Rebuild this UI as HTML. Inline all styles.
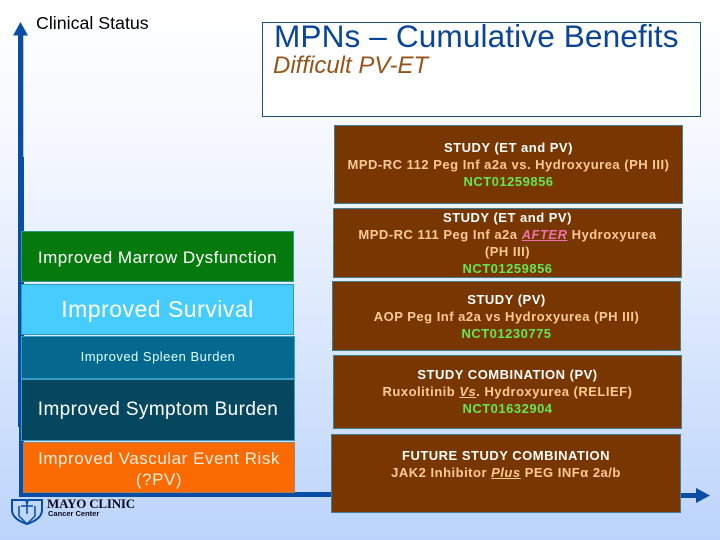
<!DOCTYPE html>
<html><head><meta charset="utf-8"><style>
html,body{margin:0;padding:0}
body{width:720px;height:540px;position:relative;overflow:hidden;background:linear-gradient(180deg,#ffffff 0%,#f3f7fe 30%,#bcd4fb 100%);font-family:"Liberation Sans",sans-serif}
.a{position:absolute;box-sizing:border-box}
.l{display:flex;align-items:center;justify-content:center;text-align:center;color:#fff;white-space:nowrap}
.r{background:#783600;border:1px solid #3f7f96;text-align:center;font-size:13px;line-height:17px;font-weight:bold;letter-spacing:.5px;color:#ffc899;white-space:nowrap}
.r b{color:#fff}.r i{font-weight:bold}
.w{color:#fff}.g{color:#66e64d}
</style></head><body>
<svg class="a" style="left:0;top:0" width="720" height="540">
<rect x="18" y="34" width="5.300" height="125" fill="#0a4da6"/>
<rect x="18" y="157" width="6" height="270" fill="#0a4da6"/>
<rect x="19" y="427" width="5" height="70" fill="#0a4da6"/>
<polygon points="20.500,22 13,35.500 28,35.500" fill="#0a4da6"/>
<rect x="19" y="492" width="315" height="5" fill="#0a4da6"/>
<rect x="680" y="493" width="18" height="5" fill="#0a4da6"/>
<polygon points="696,488 710,495.500 696,503" fill="#0a4da6"/>
<g fill="none" stroke="#0a4da6" stroke-width="2">
<path d="M12 500H26L27 503L28 500H42V510Q42 519 27 524Q12 519 12 510Z"/>
<path d="M19 506V516L27 524L35 516V506M21 506H33M27 503V514" stroke-width="1.500"/>
</g>
</svg>
<div class="a" style="left:36px;top:13px;font-size:17.800px;line-height:20px;color:#000;white-space:nowrap">Clinical Status</div>
<div class="a" style="left:262px;top:22px;width:439px;height:95px;background:#fff;border:1px solid #1f4e79"></div>
<div class="a" style="left:274px;top:19px;font-size:31.600px;line-height:34px;color:#0a4596;white-space:nowrap;letter-spacing:.1px">MPNs – Cumulative Benefits</div>
<div class="a" style="left:273px;top:53px;font-size:24px;line-height:26px;font-style:italic;color:#96541a;white-space:nowrap">Difficult PV-ET</div>

<div class="a l" style="left:21px;top:231px;width:273px;height:51px;background:#067a0c;border:1px solid #2f9b88;font-size:17px;letter-spacing:.5px;padding-top:3px">Improved Marrow Dysfunction</div>
<div class="a l" style="left:21px;top:284px;width:273px;height:51px;background:#47cdfd;border:1px solid #2a9cc4;font-size:23px;letter-spacing:.5px">Improved Survival</div>
<div class="a l" style="left:21px;top:336px;width:274px;height:43px;background:#05698f;border:1px solid #3b9cc0;font-size:13px;padding-bottom:2px;letter-spacing:.5px;color:#dff">Improved Spleen Burden</div>
<div class="a l" style="left:21px;top:379px;width:274px;height:62px;background:#04475f;border:1px solid #3b9cc0;font-size:19px;letter-spacing:.4px">Improved Symptom Burden</div>
<div class="a l" style="left:23px;top:442px;width:272px;height:51px;background:#fa6a02;border:1px solid #a3845f;font-size:17px;line-height:21px;letter-spacing:.55px;color:#ffeedd;padding-top:3px">Improved Vascular Event Risk<br>(?PV)</div>

<div class="a" style="left:47px;top:497px;font:bold 13px/14px 'Liberation Serif',serif;color:#0a0a1e;letter-spacing:-.2px;white-space:nowrap">MAYO CLINIC</div>
<div class="a" style="left:48px;top:510px;font:bold 7.500px/8px 'Liberation Sans',sans-serif;color:#0a0a1e;white-space:nowrap">Cancer Center</div>

<div class="a r" style="left:334px;top:125px;width:349px;height:79px;padding-top:13px"><b>STUDY (ET and PV)</b><br>MPD-RC 112 Peg Inf a2a vs. Hydroxyurea (PH III)<br><span class="g">NCT01259856</span></div>
<div class="a r" style="left:333px;top:208px;width:349px;height:70px;padding-top:0"><b>STUDY (ET and PV)</b><br>MPD-RC 111 Peg Inf a2a <i style="color:#f070a8;text-decoration:underline">AFTER</i> Hydroxyurea<br>(PH III)<br><span class="g">NCT01259856</span></div>
<div class="a r" style="left:332px;top:281px;width:349px;height:70px;padding-top:9px"><b>STUDY (PV)</b><br>AOP Peg Inf a2a vs Hydroxyurea (PH III)<br><span class="g">NCT01230775</span></div>
<div class="a r" style="left:333px;top:355px;width:349px;height:74px;padding-top:10px"><b>STUDY COMBINATION (PV)</b><br>Ruxolitinib <i style="text-decoration:underline">Vs</i>. Hydroxyurea (RELIEF)<br><span class="g">NCT01632904</span></div>
<div class="a r" style="left:331px;top:434px;width:350px;height:79px;padding-top:12px"><b>FUTURE STUDY COMBINATION</b><br>JAK2 Inhibitor <i style="text-decoration:underline">Plus</i> PEG INFα 2a/b</div>
</body></html>
